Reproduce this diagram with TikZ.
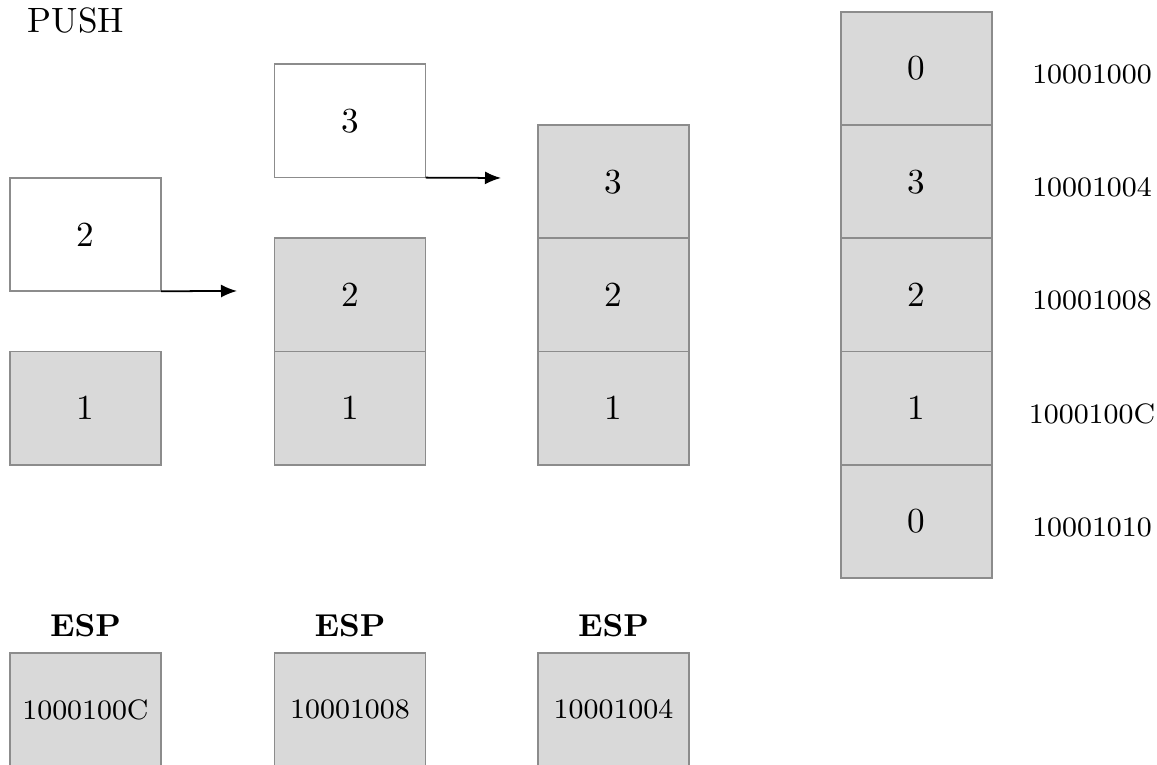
\documentclass[tikz,border=0pt]{standalone}
\usetikzlibrary{arrows.meta}
\begin{document}
\begin{tikzpicture}[x=0.01cm,y=-0.01cm,
  cell/.style={draw=black!45, line width=0.5pt, minimum width=1.51cm, minimum height=1.132cm, inner sep=0pt, outer sep=0pt, font=\normalsize},
  full/.style={cell, fill=black!15},
  blank/.style={cell, fill=white},
  addr/.style={font=\footnotesize, inner sep=0pt},
  esplabel/.style={font=\small\bfseries, inner sep=0pt, anchor=base},
  arr/.style={-{Latex[length=1.6mm,width=1.3mm]}, line width=0.5pt, black}]
\useasboundingbox (0,0) rectangle (1157,765);

% title
\node[anchor=base west, inner sep=0pt] (title) at (27,33) {PUSH};

% column 1
\node[blank] (c1w) at (85.5,234.6) {2};
\node[full]  (c1a) at (85.5,408.2) {1};
\coordinate (t1) at (237,291);
\draw[arr] (c1w.south east) -- (t1);

% column 2
\node[blank] (c2w) at (350,121) {3};
\node[full]  (c2b) at (350,295) {2};
\node[full]  (c2a) at (350,408.2) {1};
\coordinate (t2) at (501,178);
\draw[arr] (c2w.south east) -- (t2);

% column 3
\node[full] (c3c) at (613.5,181.8) {3};
\node[full] (c3b) at (613.5,295) {2};
\node[full] (c3a) at (613.5,408.2) {1};

% column 4 (memory)
\node[full] (m0) at (916.5,68.6) {0};
\node[full] (m1) at (916.5,181.8) {3};
\node[full] (m2) at (916.5,295) {2};
\node[full] (m3) at (916.5,408.2) {1};
\node[full] (m4) at (916.5,521.4) {0};

\node[addr] (a0) at (1092,74) {10001000};
\node[addr] (a1) at (1092,187.5) {10001004};
\node[addr] (a2) at (1092,300.5) {10001008};
\node[addr] (a3) at (1092,414) {1000100C};
\node[addr] (a4) at (1092,527) {10001010};

% ESP registers
\node[esplabel] (e1l) at (85.5,637) {ESP};
\node[esplabel] (e2l) at (350,637) {ESP};
\node[esplabel] (e3l) at (613.5,637) {ESP};

\node[full, font=\footnotesize] (e1) at (85.5,709.6) {1000100C};
\node[full, font=\footnotesize] (e2) at (350,709.6) {10001008};
\node[full, font=\footnotesize] (e3) at (613.5,709.6) {10001004};
\end{tikzpicture}
\end{document}
